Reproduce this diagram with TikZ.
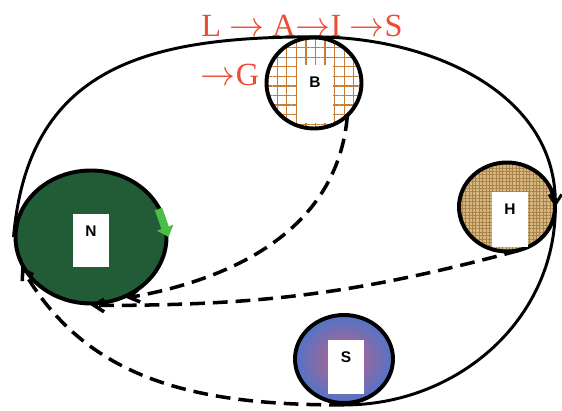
\documentclass[tikz,border=0pt]{standalone}
\usepackage{fontspec}
\setmainfont{Liberation Serif}
\setsansfont{Liberation Sans}
\usepackage{tikz}
\usetikzlibrary{arrows.meta,positioning,shapes.geometric,patterns.meta}
\definecolor{leaf}{RGB}{34,92,54}
\definecolor{mesh}{RGB}{200,125,55}
\definecolor{burlap}{RGB}{214,184,130}
\definecolor{weave}{RGB}{168,130,72}
\definecolor{seablue}{RGB}{82,116,200}
\definecolor{rose}{RGB}{196,96,130}
\definecolor{sprout}{RGB}{76,190,72}
\definecolor{brick}{RGB}{238,74,52}
\tikzset{
  planet/.style={ellipse,draw,line width=2.8pt,inner sep=0pt},
  card/.style={fill=white,minimum width=0.9cm,inner sep=0pt},
  tag/.style={font=\sffamily\bfseries\fontsize{11}{11}\selectfont,inner sep=0pt},
  route/.style={brick,font=\fontsize{23}{23}\selectfont,inner sep=0pt,anchor=base},
  orbit/.style={line width=2.1pt},
  jump/.style={line width=2.5pt,dash pattern=on 10.5pt off 5.7pt},
  barbed/.style={-{Straight Barb[length=7pt,width=9pt]}},
}

\begin{document}
\begin{tikzpicture}
  \useasboundingbox (0,0) rectangle (14.05,10.275);
  \node[planet,fill=leaf,minimum width=3.775cm,minimum height=3.325cm] (N) at (2.275,4.35) {};
  \node[planet,preaction={fill=white},pattern={Hatch[distance=6.8pt,line width=0.9pt]},
    pattern color=mesh,minimum width=2.375cm,minimum height=2.275cm] (B) at (7.85,8.2) {};
  \node[planet,preaction={fill=burlap},pattern={Hatch[distance=2.4pt,line width=0.5pt]},
    pattern color=weave,minimum width=2.4cm,minimum height=2.225cm] (H) at (12.675,5.1) {};
  \node[planet,shading=radial,inner color=rose,outer color=seablue,
    minimum width=2.45cm,minimum height=2.2cm] (S) at (8.6,1.3) {};
  \foreach \n/\x/\y/\h in {N/2.275/4.25/1.325,B/7.875/7.925/1.45,H/12.75/4.775/1.375,S/8.65/1.1/1.35}
  {
    \node[card,minimum height=\h cm] (card\n) at (\x,\y) {};
    \node[tag,below=0.285 of card\n.north] (tag\n) {\n};
  }
  \node[route] (chain) at (7.55,9.35) {L $\rightarrow$ A$\rightarrow$I $\rightarrow$S};
  \node[route] (chaintail) at (5.75,8.125) {$\rightarrow$G};
  % the loop round the outside
  \draw[orbit,barbed] (N.west) to[out=85,in=180,looseness=1.2] (B.north) to[out=0,in=90] (H.east);
  \draw[orbit] (H.east) to[out=-90,in=0] (S.south);
  \draw[jump,barbed] (S.south) to[out=180,in=-60] (N.203);
  \draw[jump,barbed] (B.-45) to[out=-95,in=10] (N.300);
  \draw[jump,barbed] (H.-75) to[out=195,in=0] (N.south);
  \coordinate (sproutstart) at ([shift={(-0.25,0.7)}]N.east);
  \draw[sprout,line width=5.5pt,-{Triangle[length=7pt,width=12pt]}] (sproutstart) -- (N.east);
\end{tikzpicture}
\end{document}
